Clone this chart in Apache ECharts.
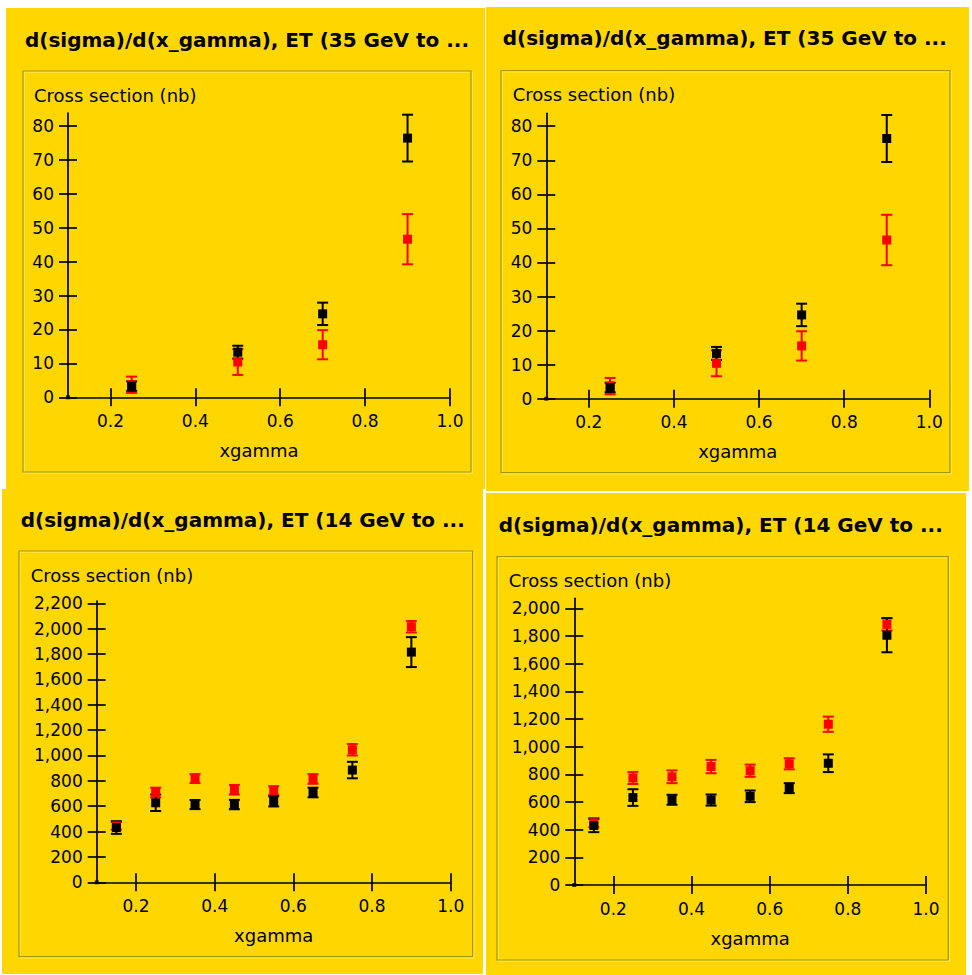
<!DOCTYPE html>
<html>
<head>
<meta charset="utf-8">
<script src="https://cdn.jsdelivr.net/npm/echarts@6/dist/echarts.min.js"></script>
<style>
html,body{margin:0;padding:0;background:#ffffff;width:972px;height:975px;overflow:hidden}
body{position:relative}
.panel{position:absolute;background:#FFD700}
</style>
</head>
<body>
<div id="p1" class="panel" style="left:6px;top:8px;width:479px;height:481px"></div>
<div id="p2" class="panel" style="left:486px;top:7px;width:483px;height:484px"></div>
<div id="p3" class="panel" style="left:2px;top:489px;width:481px;height:485px"></div>
<div id="p4" class="panel" style="left:486px;top:493px;width:480px;height:482px"></div>
<script>
// ---------- texts ----------
const titleHigh = "d(sigma)/d(x_gamma), ET (35 GeV to ...";
const titleLow = "d(sigma)/d(x_gamma), ET (14 GeV to ...";
const yAxisName = "Cross section (nb)";
const xAxisName = "xgamma";

// ---------- tick labels ----------
const xTickValues = [0.2, 0.4, 0.6, 0.8, 1.0];
const yTicksHigh = [0, 10, 20, 30, 40, 50, 60, 70, 80];
const yTicksLowA = [0, 200, 400, 600, 800, 1000, 1200, 1400, 1600, 1800, 2000, 2200];
const yTicksLowB = [0, 200, 400, 600, 800, 1000, 1200, 1400, 1600, 1800, 2000];

// ---------- data: ET 35 GeV panels (top) ----------
const xHigh = [0.25, 0.5, 0.7, 0.9];
const blackHigh = [3.3, 13.3, 24.6, 76.4];
const blackHighErr = [1.4, 1.9, 3.3, 6.9];
const redHigh = [3.7, 10.4, 15.5, 46.6];
const redHighErr = [2.4, 3.8, 4.3, 7.4];

// ---------- data: ET 14 GeV panels (bottom) ----------
const xLow = [0.15, 0.25, 0.35, 0.45, 0.55, 0.65, 0.75, 0.9];
const blackLowA = [432, 627, 613, 613, 638, 708, 885, 1815];
const blackLowAErr = [50, 65, 36, 37, 40, 38, 65, 118];
const redLowA = [445, 708, 818, 730, 723, 815, 1045, 2015];
const redLowAErr = [30, 38, 35, 38, 35, 38, 45, 45];

const blackLowB = [430, 632, 616, 614, 641, 700, 880, 1805];
const blackLowBErr = [48, 60, 36, 40, 42, 36, 64, 123];
const redLowB = [450, 773, 782, 856, 826, 876, 1162, 1884];
const redLowBErr = [33, 43, 46, 48, 44, 40, 55, 45];

// ---------- axis ranges ----------
const xMin = 0.1, xMax = 1.0;
const yMaxHigh = 83.8, yMaxLowA = 2218, yMaxLowB = 2072;
const originPoint = [[xMin, 0]];

// ---------- layout (pixels, relative to each panel) ----------
const FONT = '"DejaVu Sans", "Liberation Sans", sans-serif';
const layouts = {
  p1: {gl: 62, gt: 105, gr: 444, gb: 389.3, box: [17, 63, 448, 401], title: [19, 32], yname: [28, 87]},
  p2: {gl: 60.3, gt: 106.3, gr: 443.3, gb: 391.7, box: [15, 63.7, 449, 402], title: [16.7, 31.3], yname: [26.7, 87.3]},
  p3: {gl: 94.7, gt: 112, gr: 448.7, gb: 393.3, box: [17, 62, 453.7, 405.7], title: [18.7, 31], yname: [28.7, 86]},
  p4: {gl: 88.3, gt: 105.3, gr: 440, gb: 392, box: [11, 63.7, 451.3, 403.3], title: [12.7, 32], yname: [22.7, 87]}
};

const panels = [
  {id: 'p1', title: titleHigh, yMax: yMaxHigh, yTicks: yTicksHigh, xs: xHigh,
   black: blackHigh, blackErr: blackHighErr, red: redHigh, redErr: redHighErr},
  {id: 'p2', title: titleHigh, yMax: yMaxHigh, yTicks: yTicksHigh, xs: xHigh,
   black: blackHigh, blackErr: blackHighErr, red: redHigh, redErr: redHighErr},
  {id: 'p3', title: titleLow, yMax: yMaxLowA, yTicks: yTicksLowA, xs: xLow,
   black: blackLowA, blackErr: blackLowAErr, red: redLowA, redErr: redLowAErr},
  {id: 'p4', title: titleLow, yMax: yMaxLowB, yTicks: yTicksLowB, xs: xLow,
   black: blackLowB, blackErr: blackLowBErr, red: redLowB, redErr: redLowBErr}
];

const AXIS_COLOR = '#000000';
const AXIS_W = 1.7;
const TICK_LEN = 9;
const CAP = 11;
const BAR_W = 2;
const SYM = 9;

function fmtY(v) { return Math.round(v).toLocaleString('en-US'); }

function errSeries(xs, ys, es, color) {
  return {
    type: 'custom',
    xAxisIndex: 0, yAxisIndex: 0,
    data: xs.map((x, i) => [x, ys[i] - es[i], ys[i] + es[i]]),
    encode: {x: 0, y: [1, 2]},
    clip: false,
    silent: true,
    renderItem: function (params, api) {
      const x = api.value(0);
      const lo = api.coord([x, api.value(1)]);
      const hi = api.coord([x, api.value(2)]);
      const c = CAP / 2;
      const st = {stroke: color, lineWidth: BAR_W};
      return {
        type: 'group',
        children: [
          {type: 'line', shape: {x1: lo[0], y1: lo[1], x2: hi[0], y2: hi[1]}, style: st},
          {type: 'line', shape: {x1: lo[0] - c, y1: lo[1], x2: lo[0] + c, y2: lo[1]}, style: st},
          {type: 'line', shape: {x1: hi[0] - c, y1: hi[1], x2: hi[0] + c, y2: hi[1]}, style: st}
        ]
      };
    }
  };
}

function markSeries(xs, ys, color) {
  return {
    type: 'scatter', xAxisIndex: 0, yAxisIndex: 0,
    symbol: 'rect', symbolSize: SYM,
    itemStyle: {color: color, opacity: 1},
    data: xs.map((x, i) => [x, ys[i]]),
    silent: true
  };
}

function build(p) {
  const dom = document.getElementById(p.id);
  const L = layouts[p.id];
  const W = dom.clientWidth, H = dom.clientHeight;
  const chart = echarts.init(dom, null, {renderer: 'svg', width: W, height: H});
  const lineSt = {color: AXIS_COLOR, width: AXIS_W};
  const labelSt = {fontSize: 17, color: '#000', fontFamily: FONT};
  const baseX = {type: 'value', min: xMin, max: xMax, position: 'bottom', splitLine: {show: false}};
  const baseY = {type: 'value', min: 0, max: p.yMax, position: 'left', splitLine: {show: false}};
  const option = {
    animation: false,
    backgroundColor: 'transparent',
    grid: {left: L.gl, top: L.gt, right: W - L.gr, bottom: H - L.gb, containLabel: false},
    xAxis: [
      Object.assign({}, baseX, {
        axisLine: {show: true, onZero: false, lineStyle: lineSt},
        axisTick: {show: true, customValues: xTickValues, length: TICK_LEN, lineStyle: lineSt},
        axisLabel: Object.assign({customValues: xTickValues, margin: 15, formatter: v => v.toFixed(1)}, labelSt),
        name: xAxisName, nameLocation: 'middle', nameGap: 44,
        nameTextStyle: {fontSize: 18, color: '#000', fontFamily: FONT}
      }),
      Object.assign({}, baseX, {
        axisLine: {show: false},
        axisTick: {show: true, inside: true, customValues: xTickValues, length: TICK_LEN, lineStyle: lineSt},
        axisLabel: {show: false}
      })
    ],
    yAxis: [
      Object.assign({}, baseY, {
        axisLine: {show: true, onZero: false, lineStyle: lineSt},
        axisTick: {show: true, customValues: p.yTicks, length: TICK_LEN, lineStyle: lineSt},
        axisLabel: Object.assign({customValues: p.yTicks, margin: 14, formatter: fmtY}, labelSt)
      }),
      Object.assign({}, baseY, {
        axisLine: {show: false},
        axisTick: {show: true, inside: true, customValues: p.yTicks, length: TICK_LEN, lineStyle: lineSt},
        axisLabel: {show: false}
      })
    ],
    graphic: [
      {type: 'rect', z: -20, silent: true,
       shape: {x: L.box[0] + 1, y: L.box[1] + 1, width: L.box[2], height: L.box[3]},
       style: {fill: 'none', stroke: '#FFF27A', lineWidth: 1.2}},
      {type: 'rect', z: -19, silent: true,
       shape: {x: L.box[0], y: L.box[1], width: L.box[2], height: L.box[3]},
       style: {fill: 'none', stroke: '#A89300', lineWidth: 1.2}},
      {type: 'text', silent: true, x: L.title[0], y: L.title[1],
       style: {text: p.title, fontSize: 20, fontWeight: 'bold', fontFamily: FONT, fill: '#000',
               align: 'left', verticalAlign: 'middle'}},
      {type: 'text', silent: true, x: L.yname[0], y: L.yname[1],
       style: {text: yAxisName, fontSize: 18, fontFamily: FONT, fill: '#000',
               align: 'left', verticalAlign: 'middle'}}
    ],
    series: [
      errSeries(p.xs, p.red, p.redErr, '#FF0000'),
      markSeries(p.xs, p.red, '#FF0000'),
      errSeries(p.xs, p.black, p.blackErr, '#000000'),
      markSeries(p.xs, p.black, '#000000'),
      {type: 'scatter', symbol: 'rect', symbolSize: 4, itemStyle: {color: '#000'},
       data: originPoint, silent: true, clip: false}
    ]
  };
  chart.setOption(option);
}

panels.forEach(build);
</script>
</body>
</html>
